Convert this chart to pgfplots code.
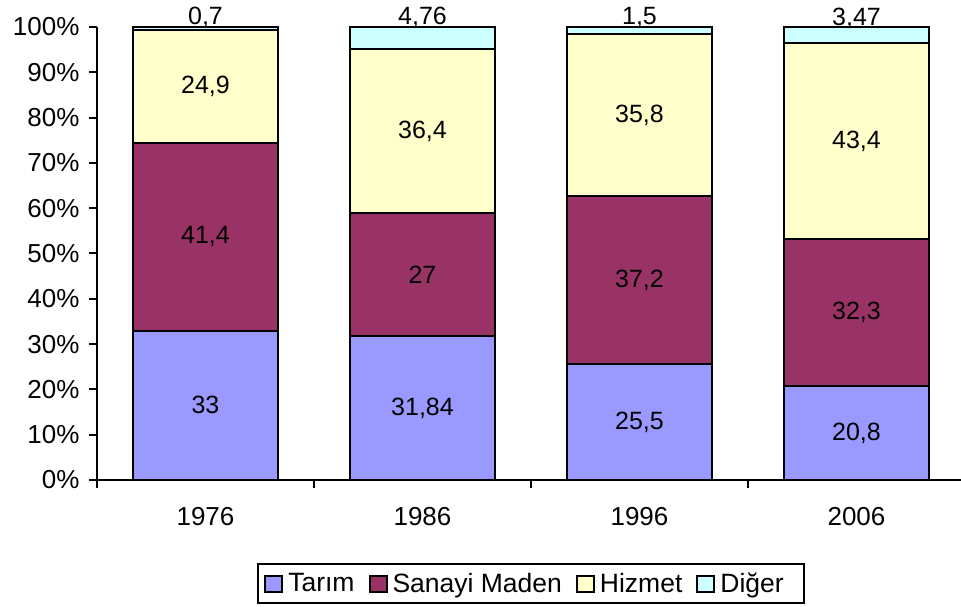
\documentclass[border=0pt]{standalone}
\usepackage{fontspec}
\setmainfont{Liberation Sans}
\usepackage{pgfplots}
\usepackage{pgfplotstable}
\pgfplotsset{compat=1.18}
\definecolor{tarim}{HTML}{9999FF}
\definecolor{sanayi}{HTML}{993366}
\definecolor{hizmet}{HTML}{FFFFCC}
\definecolor{diger}{HTML}{CCFFFF}
\newcommand\chartfont{\fontsize{25}{30}\selectfont}
\newcommand\tickfont{\fontsize{26}{31}\selectfont}
\newcommand\legfont{\fontsize{26.5}{31}\selectfont}
\pgfplotstableread{
x v
0 33
1 31.84
2 25.5
3 20.8
}\tTarim
\pgfplotstableread{
x v
0 41.4
1 27
2 37.2
3 32.3
}\tSanayi
\pgfplotstableread{
x v
0 24.9
1 36.4
2 35.8
3 43.4
}\tHizmet
\pgfplotstableread{
x v
0 0.7
1 4.76
2 1.5
3 3.47
}\tDiger
\pgfplotsset{
  mid/.style={
    nodes near coords,
    point meta=\thisrow{v},
    every node near coord/.append style={anchor=center},
  },
}
\begin{document}
\begin{tikzpicture}
\begin{axis}[
  x=217pt, y=4.53pt,
  xmin=-0.5, xmax=3.4816, ymin=0, ymax=100,
  clip=false,
  ybar stacked, bar width=145pt,
  axis lines*=left,
  axis line style={line width=2pt},
  every tick/.style={black, line width=2pt},
  tick align=outside,
  major tick length=8pt,
  ytick={0,10,...,100},
  yticklabel={\pgfmathprintnumber{\tick}\%},
  xtick={-0.5,0.5,1.5,2.5},
  xticklabels={,,,},
  extra x ticks={0,1,2,3},
  extra x tick labels={1976,1986,1996,2006},
  extra x tick style={major tick length=0pt},
  ticklabel style={font=\tickfont},
  xticklabel style={yshift=-24pt},
  yticklabel style={xshift=-6pt},
  /pgf/number format/use comma,
  /pgf/number format/fixed,
  /pgf/number format/precision=2,
  /pgf/number format/assume math mode=true,
  nodes near coords style={font=\chartfont, text=black},
  legend style={at={(0.5023,-0.2285)}, anchor=center, draw=black, line width=2pt,
    font=\legfont, legend columns=4, inner xsep=6pt, inner ysep=7pt,
    /tikz/every odd column/.append style={column sep=3pt},
    /tikz/every even column/.append style={column sep=12pt}},
  legend image code/.code={\draw[#1, line width=2pt] (0pt,-8pt) rectangle (17pt,8pt);},
]
\addplot[fill=tarim, draw=black, line width=2pt, mid] table[x=x,y=v] {\tTarim};
\addplot[fill=sanayi, draw=black, line width=2pt, mid] table[x=x,y=v] {\tSanayi};
\addplot[fill=hizmet, draw=black, line width=2pt, mid] table[x=x,y=v] {\tHizmet};
\addplot[fill=diger, draw=black, line width=2pt, nodes near coords, point meta=\thisrow{v},
  visualization depends on=\thisrow{v} \as \rawv,
  every node near coord/.append style={anchor=base, yshift=2pt, shift={(axis direction cs:0,\rawv/2)}}] table[x=x,y=v] {\tDiger};
\legend{Tarım, Sanayi Maden, Hizmet, Diğer\hspace*{12pt}}
\end{axis}
\pgfresetboundingbox
\useasboundingbox (-97pt,-127pt) rectangle (864pt,480pt);
\end{tikzpicture}
\end{document}
